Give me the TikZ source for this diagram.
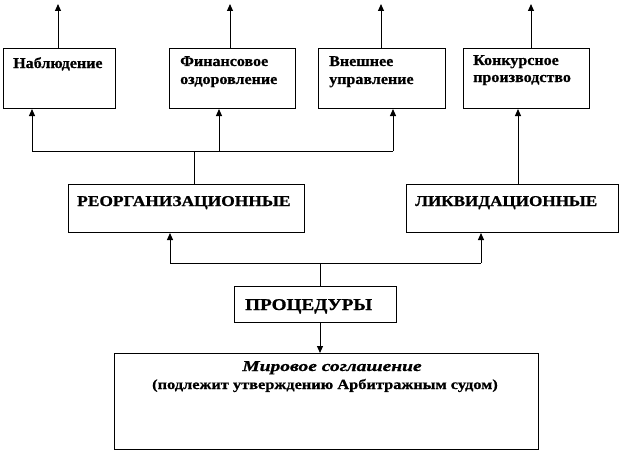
\documentclass[tikz,border=0pt]{standalone}
\usepackage{fontspec}
\setmainfont{Liberation Serif}[BoldFeatures={FakeBold=0.8},BoldItalicFeatures={FakeBold=0.8}]
\usetikzlibrary{arrows.meta}
\tikzset{
  box/.style={draw, line width=1pt, inner sep=0pt, anchor=north west},
  lbl/.style={inner sep=0pt, anchor=base west, font=\fontsize{15}{18}\selectfont\bfseries},
  bigl/.style={inner sep=0pt, anchor=base west, font=\fontsize{16.5}{19}\selectfont\bfseries},
  cen/.style={inner sep=0pt, anchor=base},
  conn/.style={line width=1pt},
  arr/.style={line width=1pt, -{Triangle[width=6pt,length=7pt]}}
}
\newcommand{\wx}[2]{\scalebox{#1}[1]{#2}}
\begin{document}
\begin{tikzpicture}[x=1pt,y=-1pt]
\useasboundingbox (0,0) rectangle (621,452);
% boxes
\node[box, minimum width=112pt, minimum height=60pt] (b1) at (3,48) {};
\node[box, minimum width=126pt, minimum height=60pt] (b2) at (169,48) {};
\node[box, minimum width=127pt, minimum height=60pt] (b3) at (318,48) {};
\node[box, minimum width=126pt, minimum height=60pt] (b4) at (463,48) {};
\node[box, minimum width=236pt, minimum height=48pt] (reorg) at (68,184) {};
\node[box, minimum width=212pt, minimum height=48pt] (likv) at (406,184) {};
\node[box, minimum width=162pt, minimum height=36pt] (proc) at (234,286) {};
\node[box, minimum width=424pt, minimum height=96pt] (mir) at (114,353) {};
% texts
\node[lbl] (t1a) at (13,68) {\wx{1.07}{Наблюдение}};
\node[lbl] (t2a) at (180,66) {\wx{1.07}{Финансовое}};
\node[lbl] (t2b) at (180,84) {\wx{1.07}{оздоровление}};
\node[lbl] (t3a) at (329,66) {\wx{1.07}{Внешнее}};
\node[lbl] (t3b) at (329,84) {\wx{1.07}{управление}};
\node[lbl] (t4a) at (473,65) {\wx{1.07}{Конкурсное}};
\node[lbl] (t4b) at (473,82) {\wx{1.07}{производство}};
\node[lbl] (tr) at (77,206) {\wx{1.16}{РЕОРГАНИЗАЦИОННЫЕ}};
\node[lbl] (tl) at (415,206) {\wx{1.14}{ЛИКВИДАЦИОННЫЕ}};
\node[bigl] (tp) at (245,310) {\wx{1.16}{ПРОЦЕДУРЫ}};
\node[cen, font=\fontsize{15}{18}\selectfont\bfseries\itshape] (tm1) at (332,371) {\wx{1.3}{Мировое соглашение}};
\node[cen, font=\fontsize{14}{16}\selectfont\bfseries] (tm2) at (325,389) {\wx{1.17}{(подлежит утверждению Арбитражным судом)}};
% free ends of top arrows
\coordinate (u1) at (58,4);
\coordinate (u2) at (230,4);
\coordinate (u3) at (381,4);
\coordinate (u4) at (531,4);
\draw[arr] (b1.north -| u1) -- (u1);
\draw[arr] (b2.north -| u2) -- (u2);
\draw[arr] (b3.north -| u3) -- (u3);
\draw[arr] (b4.north -| u4) -- (u4);
% upper bus
\coordinate (ba) at (32,151);
\coordinate (bb) at (219,151);
\coordinate (bc) at (393,151);
\coordinate (bm) at (194,151);
\draw[conn] (ba) -- (bc);
\draw[arr] (ba) -- (ba |- b1.south);
\draw[arr] (bb) -- (bb |- b2.south);
\draw[arr] (bc) -- (bc |- b3.south);
\draw[conn] (reorg.north -| bm) -- (bm);
\coordinate (lx) at (518,0);
\draw[arr] (likv.north -| lx) -- (b4.south -| lx);
% lower bus
\coordinate (ca) at (170,263);
\coordinate (cb) at (481,263);
\coordinate (cm) at (320,263);
\draw[conn] (ca) -- (cb);
\draw[arr] (ca) -- (ca |- reorg.south);
\draw[arr] (cb) -- (cb |- likv.south);
\draw[conn] (proc.north -| cm) -- (cm);
\draw[arr] (proc.south -| cm) -- (mir.north -| cm);
\end{tikzpicture}
\end{document}
